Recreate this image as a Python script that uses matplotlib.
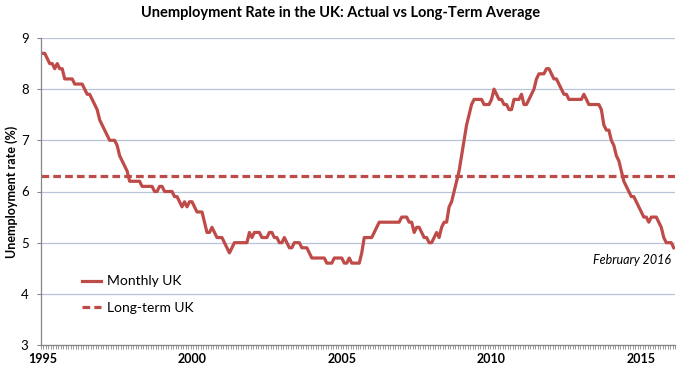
import numpy as np
import matplotlib
matplotlib.use("Agg")
import matplotlib.pyplot as plt

# monthly UK unemployment rate (%), Jan 1995 - Feb 2016
rate_by_year = {
    1995: [8.7, 8.7, 8.6, 8.5, 8.5, 8.4, 8.5, 8.4, 8.4, 8.2, 8.2, 8.2],
    1996: [8.2, 8.1, 8.1, 8.1, 8.1, 8.0, 7.9, 7.9, 7.8, 7.7, 7.6, 7.4],
    1997: [7.3, 7.2, 7.1, 7.0, 7.0, 7.0, 6.9, 6.7, 6.6, 6.5, 6.4, 6.2],
    1998: [6.2, 6.2, 6.2, 6.2, 6.1, 6.1, 6.1, 6.1, 6.1, 6.0, 6.0, 6.1],
    1999: [6.1, 6.0, 6.0, 6.0, 6.0, 5.9, 5.9, 5.8, 5.7, 5.8, 5.7, 5.8],
    2000: [5.8, 5.7, 5.6, 5.6, 5.6, 5.4, 5.2, 5.2, 5.3, 5.2, 5.1, 5.1],
    2001: [5.1, 5.0, 4.9, 4.8, 4.9, 5.0, 5.0, 5.0, 5.0, 5.0, 5.0, 5.2],
    2002: [5.1, 5.2, 5.2, 5.2, 5.1, 5.1, 5.1, 5.2, 5.2, 5.1, 5.1, 5.0],
    2003: [5.0, 5.1, 5.0, 4.9, 4.9, 5.0, 5.0, 5.0, 4.9, 4.9, 4.9, 4.8],
    2004: [4.7, 4.7, 4.7, 4.7, 4.7, 4.7, 4.6, 4.6, 4.6, 4.7, 4.7, 4.7],
    2005: [4.7, 4.6, 4.6, 4.7, 4.6, 4.6, 4.6, 4.6, 4.8, 5.1, 5.1, 5.1],
    2006: [5.1, 5.2, 5.3, 5.4, 5.4, 5.4, 5.4, 5.4, 5.4, 5.4, 5.4, 5.4],
    2007: [5.5, 5.5, 5.5, 5.4, 5.4, 5.2, 5.3, 5.3, 5.2, 5.1, 5.1, 5.0],
    2008: [5.0, 5.1, 5.2, 5.1, 5.3, 5.4, 5.4, 5.7, 5.8, 6.0, 6.2, 6.4],
    2009: [6.7, 7.0, 7.3, 7.5, 7.7, 7.8, 7.8, 7.8, 7.8, 7.7, 7.7, 7.7],
    2010: [7.8, 8.0, 7.9, 7.8, 7.8, 7.7, 7.7, 7.6, 7.6, 7.8, 7.8, 7.8],
    2011: [7.9, 7.7, 7.7, 7.8, 7.9, 8.0, 8.2, 8.3, 8.3, 8.3, 8.4, 8.4],
    2012: [8.3, 8.2, 8.2, 8.1, 8.0, 7.9, 7.9, 7.8, 7.8, 7.8, 7.8, 7.8],
    2013: [7.8, 7.9, 7.8, 7.7, 7.7, 7.7, 7.7, 7.7, 7.6, 7.3, 7.2, 7.2],
    2014: [7.0, 6.9, 6.7, 6.6, 6.4, 6.2, 6.1, 6.0, 5.9, 5.9, 5.8, 5.7],
    2015: [5.6, 5.5, 5.5, 5.4, 5.5, 5.5, 5.5, 5.4, 5.3, 5.1, 5.0, 5.0],
    2016: [5.0, 4.9],
}
long_term_avg = 6.3
year_labels = ["1995", "2000", "2005", "2010", "2015"]
y_ticks = [3, 4, 5, 6, 7, 8, 9]

monthly = [v for yr in sorted(rate_by_year) for v in rate_by_year[yr]]
n = len(monthly)
x = np.arange(n)

red = "#BE4B48"
grid_col = "#B8C5D8"
spine_col = "#868686"

plt.rcParams['font.family'] = ['Lato', 'DejaVu Sans']

fig = plt.figure(figsize=(6.85, 3.69), dpi=100)
ax = fig.add_axes([41 / 685, 1 - 345 / 369, 634 / 685, 307 / 369])

ax.plot(x, monthly, color=red, lw=2.3, solid_joinstyle="round", label="Monthly UK")
ax.plot([-0.5, n - 0.5], [long_term_avg] * 2, color=red, lw=2.3,
        dashes=(2.4, 1.3), label="Long-term UK")

ax.set_xlim(-0.5, n - 0.5)
ax.set_ylim(3, 9)
ax.set_yticks(y_ticks)
ax.set_yticklabels([str(t) for t in y_ticks], fontsize=9.5)
ax.grid(axis="y", color=grid_col, lw=0.9)
ax.set_axisbelow(True)

ax.set_xticks([i * 60 for i in range(len(year_labels))])
ax.set_xticklabels(year_labels, fontsize=9, fontweight="bold")
ax.set_xticks(np.arange(n + 1) - 0.5, minor=True)
ax.tick_params(axis="x", which="major", length=0, pad=6)
ax.tick_params(axis="x", which="minor", length=3, color=spine_col, width=0.6, direction="out")
ax.tick_params(axis="y", length=3, color=spine_col, pad=6)

for s in ["top", "right"]:
    ax.spines[s].set_visible(False)
for s in ["left", "bottom"]:
    ax.spines[s].set_color(spine_col)
    ax.spines[s].set_linewidth(0.9)

ax.set_ylabel("Unemployment rate (%)", fontsize=9, fontweight="bold", labelpad=2)

leg = ax.legend(loc="lower left", bbox_to_anchor=(0.045, 0.06), frameon=False,
                fontsize=10, handlelength=1.35, handletextpad=0.45, labelspacing=1.05)

ax.text(n - 2, 4.66, "February 2016", fontsize=9, style="italic",
        ha="right", va="center")

fig.suptitle("Unemployment Rate in the UK: Actual vs Long-Term Average",
             x=0.497, y=0.985, fontsize=10.5, fontweight="bold", va="top")

fig.savefig("out.png", dpi=100)
